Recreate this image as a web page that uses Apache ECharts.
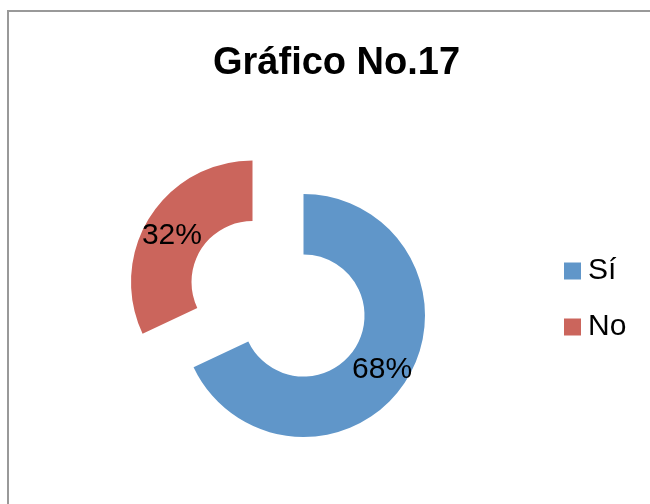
<!DOCTYPE html>
<html>
<head>
<meta charset="utf-8">
<script src="https://cdn.jsdelivr.net/npm/echarts@6/dist/echarts.min.js"></script>
<style>
  html, body { margin: 0; padding: 0; background: #fff; }
  #chart { width: 650px; height: 504px; }
</style>
</head>
<body>
<div id="chart"></div>
<script>
const categories = ['Sí', 'No'];
const values = [68, 32];
const colors = ['#6096c9', '#cb655c'];

const chart = echarts.init(document.getElementById('chart'));

// exploded doughnut: one series per slice, each with its own center
const centers = [[303.5, 315.5], [252.5, 282]];

const series = categories.map((name, i) => ({
  name: name,
  type: 'pie',
  radius: [61, 121.5],
  center: centers[i],
  startAngle: 90,
  clockwise: true,
  avoidLabelOverlap: false,
  labelLine: { show: false },
  emphasis: { disabled: true },
  data: categories.map((n, j) => ({
    name: n,
    value: values[j],
    itemStyle: { color: j === i ? colors[j] : 'rgba(0,0,0,0)' },
    label: {
      show: j === i,
      position: 'inside',
      formatter: '{d}%',
      offset: [-1, 4],
      color: '#000',
      fontSize: 30,
      fontFamily: 'Liberation Sans, Arial, sans-serif'
    }
  }))
}));

chart.setOption({
  animation: false,
  title: {
    text: 'Gráfico No.17',
    left: 213,
    top: 45,
    padding: 0,
    textStyle: {
      fontSize: 38,
      fontWeight: 'bold',
      color: '#000',
      fontFamily: 'Liberation Sans, Arial, sans-serif'
    }
  },
  legend: {
    orient: 'vertical',
    left: 564,
    top: 256,
    padding: 0,
    itemWidth: 17,
    itemHeight: 17,
    itemGap: 26,
    icon: 'rect',
    data: categories.map((n, i) => ({ name: n, itemStyle: { color: colors[i] } })),
    textStyle: {
      fontSize: 30,
      lineHeight: 30,
      color: '#000',
      padding: [0, 0, 0, 2],
      fontFamily: 'Liberation Sans, Arial, sans-serif'
    }
  },
  graphic: [{
    type: 'polyline',
    shape: { points: [[8, 504], [8, 11], [650, 11]] },
    style: { stroke: '#999', lineWidth: 2, fill: null }
  }],
  series: series
});
</script>
</body>
</html>
